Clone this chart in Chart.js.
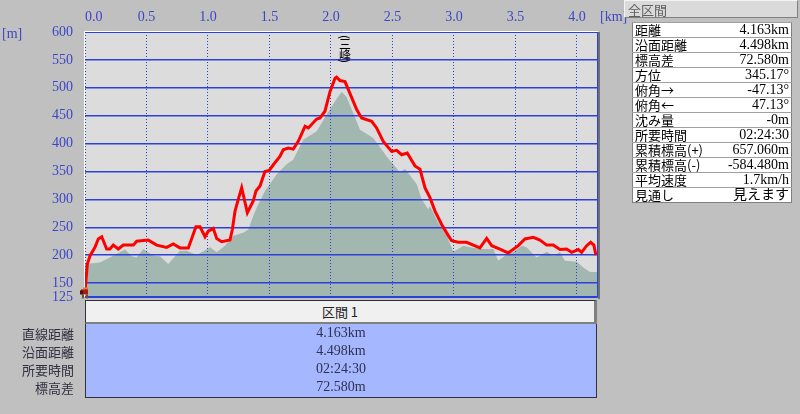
<!DOCTYPE html>
<html lang="ja">
<head>
<meta charset="utf-8">
<script src="https://cdn.jsdelivr.net/npm/chart.js@4.4.1/dist/chart.umd.min.js"></script>
<style>
  html, body { margin: 0; padding: 0; }
  body { width: 800px; height: 414px; background: #c0c0c0; position: relative; overflow: hidden;
         font-family: "Noto Sans CJK JP", sans-serif; }
  #profil { position: absolute; left: 0; top: 0; }
  .unite { position: absolute; color: #3c46c8; font: 14px "Liberation Serif", serif; }
  #panneau-titre { position: absolute; left: 624px; top: 0; width: 174px; height: 18px; background: #dadada;
                   border: 1px solid #f4f4f4; border-right-color: #808080; border-bottom-color: #808080;
                   color: #606060; font-size: 13px; line-height: 17px; padding-left: 3px; box-sizing: border-box; }
  #panneau { position: absolute; left: 632px; top: 22px; width: 160px; border-collapse: collapse;
             background: #fff; font-size: 13px; color: #000; border: 1px solid #808080; }
  #panneau td { height: 14px; padding: 0 2px; line-height: 14px; border-top: 1px solid #a0a0a0; white-space: nowrap; }
  #panneau td.v { text-align: right; font-family: "Liberation Serif", "Noto Sans CJK JP", serif; font-size: 14px; }
  #section-tete { position: absolute; left: 85px; top: 300px; width: 512px; height: 24px; background: #f0f0f0;
                  border: 1px solid #303040; border-right: 3px solid #808080; border-bottom: 2px solid #808080;
                  box-sizing: border-box; text-align: center; font-size: 13px; line-height: 22px; color: #202020; }
  #section-corps { position: absolute; left: 85px; top: 324px; width: 512px; height: 74px; background: #a5b8ff;
                   border: 1px solid #303040; border-top: none; box-sizing: border-box; }
  .ligne-val { position: absolute; left: 85px; width: 512px; text-align: center; color: #303050;
               font: 14px "Liberation Serif", "Noto Sans CJK JP", serif; }
  .ligne-lib { position: absolute; right: 726px; text-align: right; color: #303040; font-size: 13px; }
</style>
</head>
<body>
<canvas id="profil" width="800" height="414"></canvas>
<div class="unite" style="left:2px;top:26px">[m]</div>
<div class="unite" style="left:600px;top:9px">[km]</div>

<div id="panneau-titre">全区間</div>
<table id="panneau"></table>

<div id="section-tete">区間 1</div>
<div id="section-corps"></div>
<div id="section-lignes"></div>

<script>
// Profil de la trace (km, m)
const traceKm = [0.000, 0.019, 0.041, 0.081, 0.108, 0.136, 0.176, 0.203, 0.230, 0.271, 0.311, 0.393, 0.420, 0.515, 0.583,
  0.664, 0.718, 0.772, 0.840, 0.902, 0.935, 0.976, 1.002, 1.043, 1.071, 1.111, 1.179, 1.198, 1.220, 1.246, 1.274,
  1.320, 1.368, 1.390, 1.423, 1.463, 1.498, 1.531, 1.585, 1.612, 1.653, 1.693, 1.734, 1.789, 1.816, 1.884, 1.911,
  1.951, 1.992, 2.033, 2.046, 2.073, 2.114, 2.154, 2.209, 2.249, 2.331, 2.371, 2.425, 2.493, 2.534, 2.575, 2.620,
  2.683, 2.724, 2.764, 2.805, 2.846, 2.900, 2.954, 2.981, 3.035, 3.103, 3.211, 3.266, 3.307, 3.374, 3.441, 3.523,
  3.577, 3.645, 3.699, 3.754, 3.807, 3.862, 3.916, 3.957, 4.011, 4.038, 4.079, 4.111, 4.138, 4.154];
const traceAlt = [135, 184, 199, 214, 229, 233, 211, 211, 218, 211, 218, 218, 225, 227, 218,
  214, 220, 213, 213, 251, 251, 233, 243, 248, 230, 224, 227, 246, 279, 300, 321,
  276, 297, 315, 324, 350, 352, 362, 377, 389, 392, 390, 404, 431, 428, 444, 446,
  458, 493, 517, 519, 513, 511, 490, 461, 446, 440, 428, 404, 386, 388, 380, 383,
  360, 354, 321, 303, 279, 255, 235, 226, 223, 223, 213, 230, 217, 211, 204, 217,
  229, 232, 227, 218, 218, 210, 211, 205, 210, 205, 217, 223, 218, 200];

// Relief du terrain (km, m)
const terrainKm = [0.000, 0.122, 0.230, 0.325, 0.380, 0.420, 0.474, 0.555, 0.610, 0.677, 0.772, 0.827, 0.908, 1.016,
  1.071, 1.138, 1.206, 1.287, 1.328, 1.368, 1.396, 1.463, 1.559, 1.640, 1.693, 1.775, 1.884, 1.965, 2.033, 2.087,
  2.128, 2.236, 2.344, 2.453, 2.561, 2.602, 2.697, 2.737, 2.791, 2.805, 2.872, 2.941, 2.994, 3.035, 3.075, 3.130,
  3.211, 3.320, 3.360, 3.415, 3.482, 3.550, 3.590, 3.672, 3.754, 3.807, 3.862, 3.902, 3.998, 4.051, 4.106, 4.163];
const terrainAlt = [184, 187, 199, 210, 198, 196, 211, 199, 198, 184, 208, 208, 200, 214,
  205, 217, 235, 240, 246, 270, 285, 315, 345, 363, 371, 407, 422, 452, 476, 493,
  483, 425, 410, 377, 348, 355, 327, 300, 282, 288, 258, 235, 206, 211, 217, 214,
  211, 211, 190, 199, 205, 217, 214, 196, 206, 199, 205, 190, 188, 178, 170, 170];

// Graduations
const ticksKm = [0, 0.5, 1.0, 1.5, 2.0, 2.5, 3.0, 3.5, 4.0];
const ticksAlt = [125, 150, 200, 250, 300, 350, 400, 450, 500, 550, 600];
const distMax = 4.163;

// Sommet nommé
const sommet = { nom: '三峰', km: 2.114 };

// Tableaux de synthèse
const infoLibelles = ['距離', '沿面距離', '標高差', '方位', '俯角→', '俯角←', '沈み量', '所要時間', '累積標高(+)', '累積標高(-)', '平均速度', '見通し'];
const infoValeurs = ['4.163km', '4.498km', '72.580m', '345.17°', '-47.13°', '47.13°', '-0m', '02:24:30', '657.060m', '-584.480m', '1.7km/h', '見えます'];
const sectionLibelles = ['直線距離', '沿面距離', '所要時間', '標高差'];
const sectionValeurs = ['4.163km', '4.498km', '02:24:30', '72.580m'];

// Remplir le panneau de droite
const panneau = document.getElementById('panneau');
infoLibelles.forEach((lib, i) => {
  const tr = document.createElement('tr');
  tr.innerHTML = '<td>' + lib + '</td><td class="v">' + infoValeurs[i] + '</td>';
  panneau.appendChild(tr);
});

// Remplir la section du bas
const lignes = document.getElementById('section-lignes');
sectionLibelles.forEach((lib, i) => {
  const y = 324 + i * 18;
  lignes.insertAdjacentHTML('beforeend',
    '<div class="ligne-lib" style="top:' + y + 'px">' + lib + '</div>' +
    '<div class="ligne-val" style="top:' + (y + 1) + 'px">' + sectionValeurs[i] + '</div>');
});

const bleu = '#2c40dc';

// Plugin : fond, grille au-dessus du relief, bordures, étiquette, randonneur
const decor = {
  id: 'decor',
  beforeDatasetsDraw(chart) {
    const { ctx, chartArea: a } = chart;
    ctx.save();
    ctx.fillStyle = '#dcdcdc';
    ctx.fillRect(a.left, a.top, a.right - a.left, a.bottom - a.top);
    ctx.restore();
  },
  afterDatasetDraw(chart, args) {
    if (args.index !== 0) return;
    chart.scales.x.drawGrid(chart.chartArea);
    chart.scales.y.drawGrid(chart.chartArea);
  },
  afterDraw(chart) {
    const { ctx, chartArea: a } = chart;
    ctx.save();
    // bordures
    ctx.strokeStyle = '#ffffff';
    ctx.lineWidth = 1;
    ctx.beginPath();
    ctx.moveTo(a.left - 0.5, a.bottom); ctx.lineTo(a.left - 0.5, a.top - 0.5); ctx.lineTo(a.right + 1, a.top - 0.5);
    ctx.stroke();
    ctx.strokeStyle = bleu;
    ctx.beginPath();
    ctx.moveTo(a.left, a.top + 0.5); ctx.lineTo(a.right, a.top + 0.5);
    ctx.moveTo(a.right + 0.5, a.top); ctx.lineTo(a.right + 0.5, a.bottom + 0.5); ctx.lineTo(a.left, a.bottom + 0.5);
    ctx.stroke();
    ctx.strokeStyle = '#707070';
    ctx.lineWidth = 2;
    ctx.beginPath();
    ctx.moveTo(a.right + 2, a.top); ctx.lineTo(a.right + 2, a.bottom + 2);
    ctx.stroke();

    // étiquette verticale du sommet
    const xs = chart.scales.x.getPixelForValue(sommet.km);
    ctx.fillStyle = '#000';
    ctx.textAlign = 'center';
    ctx.textBaseline = 'middle';
    ctx.font = '12px "Noto Sans CJK JP"';
    const paren = (c, y) => {
      ctx.save();
      ctx.translate(xs, y);
      ctx.rotate(Math.PI / 2);
      ctx.fillText(c, 0, 0);
      ctx.restore();
    };
    paren('(', 37);
    sommet.nom.split('').forEach((c, i) => ctx.fillText(c, xs, 44 + i * 11));
    paren(')', 61);

    // petit randonneur au départ
    const x0 = chart.scales.x.getPixelForValue(traceKm[0]);
    const y0 = chart.scales.y.getPixelForValue(traceAlt[0]);
    ctx.fillStyle = '#e08030'; ctx.fillRect(x0 - 2, y0 - 4, 5, 2);
    ctx.fillStyle = '#b01818'; ctx.fillRect(x0 - 4, y0 - 2, 7, 5);
    ctx.fillStyle = '#501010'; ctx.fillRect(x0 - 5, y0 - 1, 3, 4);
    ctx.fillStyle = '#705030'; ctx.fillRect(x0 - 3, y0 + 3, 2, 4); ctx.fillRect(x0 + 1, y0 + 3, 2, 4);
    ctx.restore();
  }
};

const ctx = document.getElementById('profil').getContext('2d');
new Chart(ctx, {
  type: 'line',
  data: {
    datasets: [{
      label: '地形',
      data: terrainKm.map((k, i) => ({ x: k, y: terrainAlt[i] })),
      borderWidth: 0,
      borderColor: 'rgba(0,0,0,0)',
      backgroundColor: '#a1b7af',
      fill: 'start',
      pointRadius: 0,
      order: 2
    }, {
      label: 'トラック',
      data: traceKm.map((k, i) => ({ x: k, y: traceAlt[i] })),
      borderColor: '#ff0000',
      borderWidth: 3,
      fill: false,
      pointRadius: 0,
      borderJoinStyle: 'miter',
      order: 1
    }]
  },
  options: {
    responsive: false,
    animation: false,
    layout: { padding: { left: 0, top: 0, right: 203, bottom: 117 } },
    plugins: { legend: { display: false }, tooltip: { enabled: false } },
    scales: {
      x: {
        type: 'linear',
        position: 'top',
        min: 0,
        max: distMax,
        afterBuildTicks: s => { s.ticks = ticksKm.map(v => ({ value: v })).concat([{ value: distMax }]); },
        afterFit: s => { s.height = 32; },
        border: { display: false, dash: [1, 2] },
        grid: { color: bleu, lineWidth: 1, drawTicks: false },
        ticks: {
          align: 'inner',
          padding: 6,
          color: '#3c46c8',
          font: { family: 'Liberation Serif', size: 14 },
          callback: v => (v === distMax ? '' : v.toFixed(1))
        }
      },
      y: {
        type: 'linear',
        min: 125,
        max: 600,
        afterBuildTicks: s => { s.ticks = ticksAlt.map(v => ({ value: v })); },
        afterFit: s => { s.width = 85; },
        border: { display: false },
        grid: { color: bleu, lineWidth: 1.5, drawTicks: false },
        ticks: {
          padding: 12,
          color: '#3c46c8',
          font: { family: 'Liberation Serif', size: 14 },
          callback: v => String(v)
        }
      }
    }
  },
  plugins: [decor]
});
</script>
</body>
</html>
